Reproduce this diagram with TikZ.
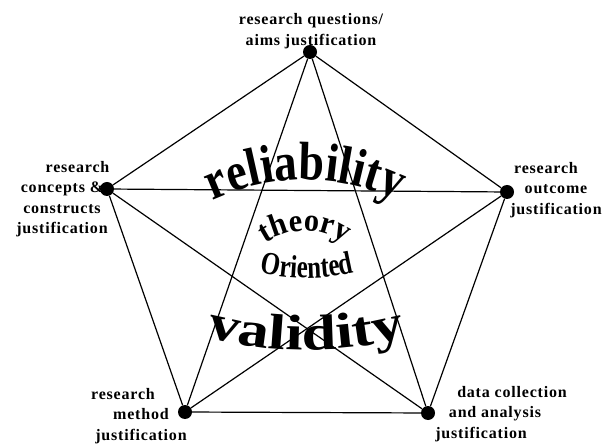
\documentclass[tikz,border=0pt]{standalone}
\usepackage{fontspec}
\setmainfont{Liberation Serif}
\newfontfamily\labfont[LetterSpace=5]{Liberation Serif}
\newfontfamily\relfont[FakeStretch=0.85]{Liberation Serif}
\newfontfamily\valfont[FakeStretch=1.25]{Liberation Serif}
\newfontfamily\thfont[FakeStretch=0.95]{Liberation Serif}
\newfontfamily\orfont[FakeStretch=0.78]{Liberation Serif}
\usetikzlibrary{decorations.text,calc}
\begin{document}
\begin{tikzpicture}[x=1pt,y=1pt,
  dot/.style={circle,fill=black,inner sep=0pt,minimum size=14pt},
  lab/.style={font=\labfont\bfseries\fontsize{16}{20.5}\selectfont,align=center,inner sep=0pt},
  edge/.style={line width=1.2pt}]
\useasboundingbox (0,0) rectangle (604,444);
% vertices
\node[dot] (T) at (310,392) {};
\node[dot] (L) at (107,255) {};
\node[dot] (R) at (507,252) {};
\node[dot] (BL) at (185,32) {};
\node[dot] (BR) at (428,31) {};
% edges (complete graph)
\foreach \a/\b in {T/L,T/R,L/BL,R/BR,BL/BR,T/BL,T/BR,L/R,L/BR,R/BL}
  \draw[edge] (\a) -- (\b);
% labels
\node[lab] (lT) at (311,413) {research questions/\\aims justification};
\node[lab] (lL) at (62,245) {\hspace*{31pt}research\\concepts \&\hspace*{19pt}\\constructs\\justification};
\node[lab] (lR) at (556,254) {research\hspace*{20pt}\\outcome\\justification};
\node[lab] (lBL) at (141,28) {research\hspace*{36pt}\\method\\justification};
\node[lab] (lBR) at (495,30) {\hspace*{34pt}data collection\\and analysis\hspace*{6pt}\\justification\hspace*{28pt}};
% curved words
\path[decorate,decoration={text along path,text align=center,
  text={|\relfont\bfseries\fontsize{54}{54}\selectfont|reliability}}]
  ($(305,46)+(130:218)$) arc[start angle=130,end angle=50,radius=218];
\path[decorate,decoration={text along path,text align=center,
  text={|\thfont\bfseries\fontsize{32}{32}\selectfont|theory}}]
  ($(305,143)+(150:70)$) arc[start angle=150,end angle=30,radius=70];
\path[decorate,decoration={text along path,text align=center,
  text={|\orfont\bfseries\fontsize{32}{32}\selectfont|Oriented}}]
  ($(307,366)+(240:200)$) arc[start angle=240,end angle=300,radius=200];
\path[decorate,decoration={text along path,text align=center,
  text={|\valfont\bfseries\fontsize{50}{50}\selectfont|validity}}]
  ($(306,494)+(245:400)$) arc[start angle=245,end angle=295,radius=400];
\end{tikzpicture}
\end{document}
